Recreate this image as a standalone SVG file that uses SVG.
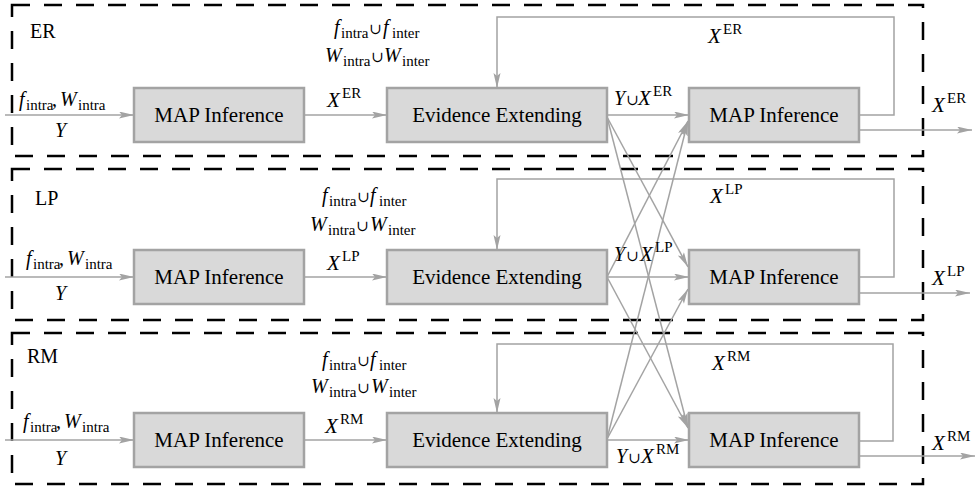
<svg xmlns="http://www.w3.org/2000/svg" width="975" height="486" viewBox="0 0 975 486">
<defs>
<style>
.panel{fill:none;stroke:#000;stroke-width:2.5;stroke-dasharray:18 14}
.box{fill:#d9d9d9;stroke:#a3a3a3;stroke-width:2.5}
.bt{font-family:"Liberation Serif","Times New Roman",serif;font-size:21px;fill:#000;text-anchor:middle}
.t{font-family:"Liberation Serif","Times New Roman",serif;font-size:20px;fill:#000}
.x{font-style:italic;font-size:21px}
.i{font-style:italic}
.s{font-size:15px;font-style:normal}
.u{font-family:"DejaVu Serif","Liberation Serif",serif;font-size:15px;font-style:normal}
.ca{fill:none;stroke:#a3a3a3;stroke-width:1.5;marker-end:url(#ah)}
</style>
<marker id="ah" markerUnits="userSpaceOnUse" markerWidth="16" markerHeight="8" refX="15" refY="3.5" orient="auto">
<path d="M0,0 L15,3.5 L0,7 L3,3.5 z" fill="#a3a3a3"/>
</marker>
</defs>
<rect width="975" height="486" fill="#fff"/>

<g id="panel-ER"><rect class="panel" x="12" y="5" width="911" height="151"/><text class="t" x="30" y="38">ER</text></g>
<g id="panel-LP"><rect class="panel" x="12" y="169" width="911" height="151"/><text class="t" x="35" y="205">LP</text></g>
<g id="panel-RM"><rect class="panel" x="12" y="333" width="911" height="151"/><text class="t" x="27" y="363">RM</text></g>

<g id="connectors">
<path class="ca" d="M5,115 H134"/>
<path class="ca" d="M304,115 H387"/>
<path class="ca" d="M607,115 H689"/>
<path class="ca" d="M859,115 H894 V17 H497 V88"/>
<path class="ca" d="M859,130 H972"/>
<path class="ca" d="M5,277 H134"/>
<path class="ca" d="M304,277 H387"/>
<path class="ca" d="M607,277 H689"/>
<path class="ca" d="M859,277 H894 V179 H497 V250"/>
<path class="ca" d="M859,293 H970"/>
<path class="ca" d="M5,440 H134"/>
<path class="ca" d="M304,440 H387"/>
<path class="ca" d="M607,440 H689"/>
<path class="ca" d="M859,441 H893 V344 H497 V413"/>
<path class="ca" d="M859,456 H975"/>
<path class="ca" d="M607,117 L688,267"/>
<path class="ca" d="M607,117 L688,428"/>
<path class="ca" d="M607,277 L688,121"/>
<path class="ca" d="M607,277 L688,428"/>
<path class="ca" d="M607,439 L688,121"/>
<path class="ca" d="M607,439 L688,289"/>
</g>

<g id="er-map1"><rect class="box" x="134" y="88" width="170" height="54"/><text class="bt" x="219" y="122">MAP Inference</text></g>
<g id="er-evid"><rect class="box" x="387" y="88" width="220" height="54"/><text class="bt" x="497" y="122">Evidence Extending</text></g>
<g id="er-map2"><rect class="box" x="689" y="88" width="170" height="54"/><text class="bt" x="774" y="122">MAP Inference</text></g>

<g id="lp-map1"><rect class="box" x="134" y="250" width="170" height="54"/><text class="bt" x="219" y="284">MAP Inference</text></g>
<g id="lp-evid"><rect class="box" x="387" y="250" width="220" height="54"/><text class="bt" x="497" y="284">Evidence Extending</text></g>
<g id="lp-map2"><rect class="box" x="689" y="250" width="170" height="54"/><text class="bt" x="774" y="284">MAP Inference</text></g>

<g id="rm-map1"><rect class="box" x="134" y="413" width="170" height="54"/><text class="bt" x="219" y="447">MAP Inference</text></g>
<g id="rm-evid"><rect class="box" x="387" y="413" width="220" height="54"/><text class="bt" x="497" y="447">Evidence Extending</text></g>
<g id="rm-map2"><rect class="box" x="689" y="413" width="170" height="54"/><text class="bt" x="774" y="447">MAP Inference</text></g>

<g id="labels">
<!-- ER -->
<text class="t"><tspan class="i" x="19" y="106">f</tspan><tspan class="s" x="26" y="110">intra</tspan><tspan x="52" y="106">,</tspan><tspan class="i" x="60" y="106">W</tspan><tspan class="s" x="78" y="110">intra</tspan></text>
<text class="t i" x="55" y="137">Y</text>
<text class="t"><tspan class="i" x="334" y="34">f</tspan><tspan class="s" x="341" y="38">intra</tspan><tspan class="u" x="369" y="34">∪</tspan><tspan class="i" x="383" y="34">f</tspan><tspan class="s" x="392" y="38">inter</tspan></text>
<text class="t"><tspan class="i" x="325" y="62">W</tspan><tspan class="s" x="343" y="66">intra</tspan><tspan class="u" x="371" y="62">∪</tspan><tspan class="i" x="384" y="62">W</tspan><tspan class="s" x="402" y="66">inter</tspan></text>
<text class="t"><tspan class="x" x="327" y="107">X</tspan><tspan class="s" x="342" y="98">ER</tspan></text>
<text class="t"><tspan class="i" x="614" y="105">Y</tspan><tspan class="u" x="626" y="105">∪</tspan><tspan class="x" x="638" y="105">X</tspan><tspan class="s" x="653" y="96">ER</tspan></text>
<text class="t"><tspan class="x" x="708" y="43">X</tspan><tspan class="s" x="723" y="34">ER</tspan></text>
<text class="t"><tspan class="x" x="932" y="112">X</tspan><tspan class="s" x="947" y="103">ER</tspan></text>
<!-- LP -->
<text class="t"><tspan class="i" x="26" y="265">f</tspan><tspan class="s" x="33" y="269">intra</tspan><tspan x="59" y="265">,</tspan><tspan class="i" x="67" y="265">W</tspan><tspan class="s" x="85" y="269">intra</tspan></text>
<text class="t i" x="55" y="300">Y</text>
<text class="t"><tspan class="i" x="322" y="202">f</tspan><tspan class="s" x="329" y="206">intra</tspan><tspan class="u" x="357" y="202">∪</tspan><tspan class="i" x="370" y="202">f</tspan><tspan class="s" x="379" y="206">inter</tspan></text>
<text class="t"><tspan class="i" x="310" y="231">W</tspan><tspan class="s" x="328" y="235">intra</tspan><tspan class="u" x="356" y="231">∪</tspan><tspan class="i" x="370" y="231">W</tspan><tspan class="s" x="388" y="235">inter</tspan></text>
<text class="t"><tspan class="x" x="327" y="270">X</tspan><tspan class="s" x="342" y="261">LP</tspan></text>
<text class="t"><tspan class="i" x="614" y="261">Y</tspan><tspan class="u" x="626" y="261">∪</tspan><tspan class="x" x="640" y="261">X</tspan><tspan class="s" x="655" y="252">LP</tspan></text>
<text class="t"><tspan class="x" x="710" y="203">X</tspan><tspan class="s" x="725" y="194">LP</tspan></text>
<text class="t"><tspan class="x" x="932" y="285">X</tspan><tspan class="s" x="947" y="276">LP</tspan></text>
<!-- RM -->
<text class="t"><tspan class="i" x="23" y="428">f</tspan><tspan class="s" x="30" y="432">intra</tspan><tspan x="56" y="428">,</tspan><tspan class="i" x="64" y="428">W</tspan><tspan class="s" x="82" y="432">intra</tspan></text>
<text class="t i" x="55" y="465">Y</text>
<text class="t"><tspan class="i" x="322" y="366">f</tspan><tspan class="s" x="329" y="370">intra</tspan><tspan class="u" x="357" y="366">∪</tspan><tspan class="i" x="370" y="366">f</tspan><tspan class="s" x="379" y="370">inter</tspan></text>
<text class="t"><tspan class="i" x="311" y="393">W</tspan><tspan class="s" x="329" y="397">intra</tspan><tspan class="u" x="357" y="393">∪</tspan><tspan class="i" x="371" y="393">W</tspan><tspan class="s" x="389" y="397">inter</tspan></text>
<text class="t"><tspan class="x" x="325" y="433">X</tspan><tspan class="s" x="340" y="424">RM</tspan></text>
<text class="t"><tspan class="i" x="616" y="463">Y</tspan><tspan class="u" x="628" y="463">∪</tspan><tspan class="x" x="641" y="463">X</tspan><tspan class="s" x="656" y="454">RM</tspan></text>
<text class="t"><tspan class="x" x="712" y="370">X</tspan><tspan class="s" x="727" y="361">RM</tspan></text>
<text class="t"><tspan class="x" x="932" y="450">X</tspan><tspan class="s" x="947" y="441">RM</tspan></text>
</g>
</svg>
